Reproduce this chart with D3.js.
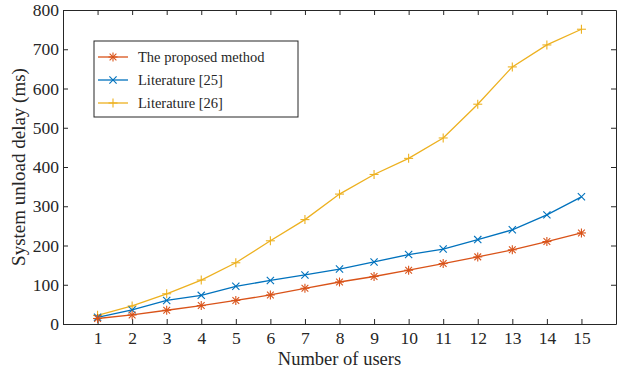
<!DOCTYPE html>
<html>
<head>
<meta charset="utf-8">
<script src="https://cdn.jsdelivr.net/npm/d3@7"></script>
<style>
  body { margin: 0; background: #fff; }
  text { font-family: "Liberation Serif", "Times New Roman", serif; fill: #262626; }
</style>
</head>
<body>
<div id="graph"></div>
<script>
// data
const users = [1, 2, 3, 4, 5, 6, 7, 8, 9, 10, 11, 12, 13, 14, 15];
const proposed = [14, 23, 35, 47, 60, 74, 91, 107, 121, 137, 154, 171, 189, 210, 232];
const lit25 = [17, 36, 60, 73, 96, 111, 125, 140, 158, 177, 191, 215, 240, 278, 324];
const lit26 = [22, 46, 77, 112, 156, 212, 266, 331, 381, 422, 474, 560, 655, 711, 751];
const seriesNames = ["The proposed method", "Literature [25]", "Literature [26]"];
const yTicks = [0, 100, 200, 300, 400, 500, 600, 700, 800];

const W = 625, H = 374;
const margin = {top: 10, right: 9, bottom: 50, left: 63};
const width = W - margin.left - margin.right,
  height = H - margin.top - margin.bottom;

const svg = d3.select("#graph")
.append("svg")
  .attr("width", W)
  .attr("height", H)
.append("g")
  .attr("transform", `translate(${margin.left}, ${margin.top})`);

const x = d3.scaleLinear().domain([0, 16]).range([0, width]);
const y = d3.scaleLinear().domain([0, 800]).range([height, 0]);

const axisColor = "#262626";

// axes, ticks pointing inwards, box all round
const xAxis = svg.append("g")
  .attr("transform", `translate(0,${height})`)
  .call(d3.axisBottom(x).tickValues(users).tickSizeInner(-5).tickSizeOuter(0).tickPadding(8));
const xTop = svg.append("g")
  .call(d3.axisTop(x).tickValues(users).tickSizeInner(-5).tickSizeOuter(0).tickFormat(""));
const yAxis = svg.append("g")
  .call(d3.axisLeft(y).tickValues(yTicks).tickSizeInner(-5).tickSizeOuter(0).tickPadding(4));
const yRight = svg.append("g")
  .attr("transform", `translate(${width},0)`)
  .call(d3.axisRight(y).tickValues(yTicks).tickSizeInner(-5).tickSizeOuter(0).tickFormat(""));

[xAxis, xTop, yAxis, yRight].forEach(g => {
  g.selectAll("path, line").attr("stroke", axisColor).attr("stroke-width", 1);
  g.selectAll("text")
    .style("font-family", "'Liberation Serif', serif")
    .style("font-size", "17.5px")
    .attr("fill", axisColor);
});

// axis titles
svg.append("text")
  .attr("x", width / 2)
  .attr("y", height + 41)
  .attr("text-anchor", "middle")
  .style("font-size", "18.5px")
  .text("Number of users");

svg.append("text")
  .attr("transform", `translate(${-38},${height / 2}) rotate(-90)`)
  .attr("text-anchor", "middle")
  .style("font-size", "19px")
  .text("System unload delay (ms)");

const colors = ["#D95319", "#0072BD", "#EDB120"];
const allSeries = [proposed, lit25, lit26];
const markers = ["star", "x", "plus"];

function drawMarker(g, type, cx, cy, color) {
  const s = 4.5;
  const segs = [];
  if (type === "plus" || type === "star") {
    segs.push([0, -s, 0, s], [-s, 0, s, 0]);
  }
  if (type === "x" || type === "star") {
    const d = type === "star" ? s * 0.75 : s * 0.8;
    segs.push([-d, -d, d, d], [-d, d, d, -d]);
  }
  segs.forEach(p => {
    g.append("line")
      .attr("x1", cx + p[0]).attr("y1", cy + p[1])
      .attr("x2", cx + p[2]).attr("y2", cy + p[3])
      .attr("stroke", color).attr("stroke-width", 1.1);
  });
}

const line = d3.line()
  .x((d, i) => x(users[i]))
  .y(d => y(d));

// draw in reverse so the proposed method sits on top
[2, 1, 0].forEach(k => {
  svg.append("path")
    .datum(allSeries[k])
    .attr("fill", "none")
    .attr("stroke", colors[k])
    .attr("stroke-width", 1.3)
    .attr("d", line);
  const mg = svg.append("g");
  allSeries[k].forEach((v, i) => drawMarker(mg, markers[k], x(users[i]), y(v), colors[k]));
});

// legend
const legend = svg.append("g")
  .attr("transform", `translate(${94 - margin.left},${41 - margin.top})`);
legend.append("rect")
  .attr("width", 204).attr("height", 76)
  .attr("fill", "#fff")
  .attr("stroke", axisColor).attr("stroke-width", 1);

seriesNames.forEach((name, k) => {
  const ly = 16 + k * 23;
  legend.append("line")
    .attr("x1", 4).attr("x2", 34)
    .attr("y1", ly).attr("y2", ly)
    .attr("stroke", colors[k]).attr("stroke-width", 1.3);
  drawMarker(legend, markers[k], 19, ly, colors[k]);
  legend.append("text")
    .attr("x", 44)
    .attr("y", ly + 5)
    .style("font-size", "14.5px")
    .text(name);
});
</script>
</body>
</html>
